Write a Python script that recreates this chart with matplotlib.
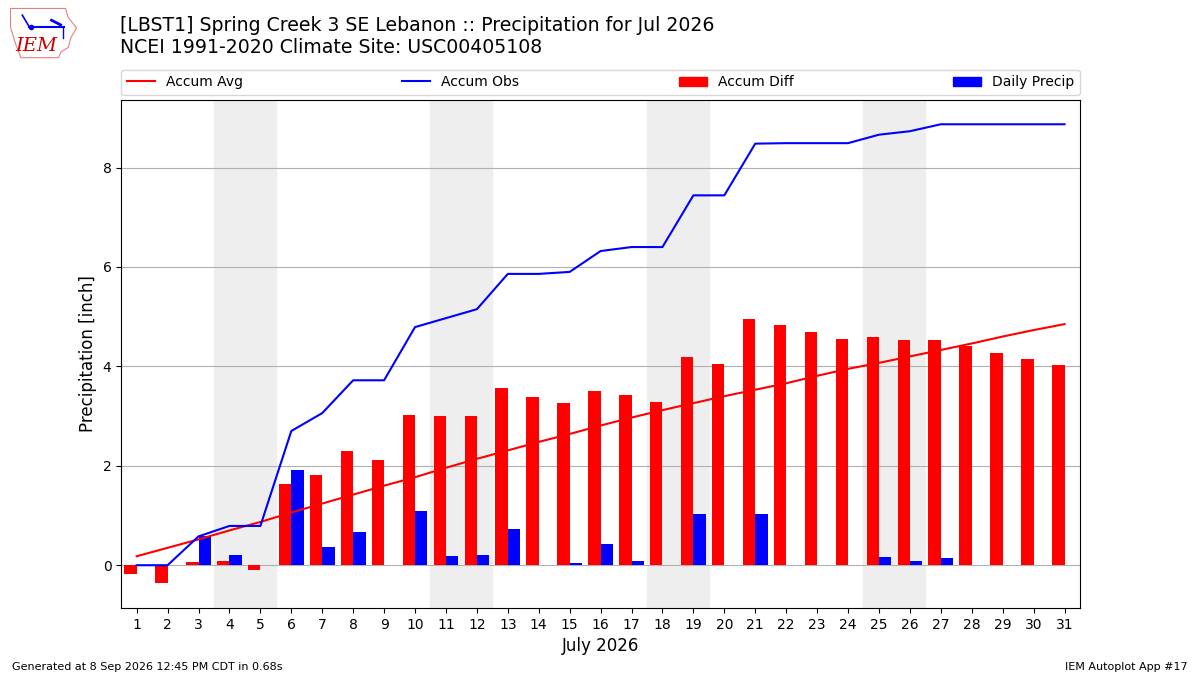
import matplotlib
matplotlib.use("Agg")
import matplotlib.pyplot as plt
from matplotlib.patches import Patch, Polygon
from matplotlib.lines import Line2D

days = list(range(1, 32))
accum_avg = [0.18, 0.35, 0.52, 0.70, 0.87, 1.06, 1.24, 1.42, 1.60, 1.77,
             1.96, 2.14, 2.31, 2.48, 2.64, 2.81, 2.97, 3.12, 3.26, 3.40,
             3.53, 3.66, 3.81, 3.95, 4.07, 4.20, 4.33, 4.46, 4.60, 4.73, 4.85]
accum_obs = [0.00, 0.00, 0.58, 0.79, 0.79, 2.70, 3.06, 3.72, 3.72, 4.79,
             4.97, 5.15, 5.86, 5.86, 5.90, 6.32, 6.40, 6.40, 7.44, 7.44,
             8.48, 8.49, 8.49, 8.49, 8.66, 8.73, 8.87, 8.87, 8.87, 8.87, 8.87]
accum_diff = [-0.17, -0.36, 0.06, 0.08, -0.09, 1.63, 1.81, 2.29, 2.11, 3.02,
              3.00, 3.00, 3.56, 3.38, 3.26, 3.50, 3.42, 3.28, 4.18, 4.04,
              4.95, 4.83, 4.69, 4.55, 4.59, 4.53, 4.53, 4.41, 4.27, 4.14, 4.02]
daily_precip = [0.00, 0.00, 0.58, 0.21, 0.00, 1.91, 0.36, 0.66, 0.00, 1.09,
                0.18, 0.20, 0.72, 0.00, 0.04, 0.42, 0.08, 0.00, 1.04, 0.00,
                1.04, 0.01, 0.00, 0.00, 0.16, 0.08, 0.14, 0.00, 0.00, 0.00, 0.00]
weekends = [(4, 5), (11, 12), (18, 19), (25, 26)]

fig = plt.figure(figsize=(12, 6.75), dpi=100)
ax = fig.add_axes([0.101, 0.0993, 0.799, 0.7527])

for start, end in weekends:
    ax.axvspan(start - 0.5, end + 0.5, color="#eeeeee", zorder=0)

ax.bar(days, accum_diff, width=-0.4, align="edge", color="r", zorder=2)
ax.bar(days, daily_precip, width=0.4, align="edge", color="b", zorder=2)
ax.plot(days, accum_avg, color="r", lw=1.5, zorder=3)
ax.plot(days, accum_obs, color="b", lw=1.5, zorder=3)

ax.set_xlim(0.5, 31.5)
ax.set_ylim(-0.86, 9.36)
ax.set_xticks(days)
ax.set_yticks([0, 2, 4, 6, 8])
ax.grid(axis="y", color="#b0b0b0", zorder=1)
ax.set_axisbelow(True)
ax.set_xlabel("July 2026", fontsize=12)
ax.set_ylabel("Precipitation [inch]", fontsize=12)

handles = [
    Line2D([], [], color="r", lw=1.5),
    Line2D([], [], color="b", lw=1.5),
    Patch(color="r"),
    Patch(color="b"),
]
ax.legend(handles, ["Accum Avg", "Accum Obs", "Accum Diff", "Daily Precip"],
          ncol=4, mode="expand", loc="lower left",
          bbox_to_anchor=(0, 1.01, 1, 0.05), borderaxespad=0, fontsize=10)

fig.text(0.1, 0.976, "[LBST1] Spring Creek 3 SE Lebanon :: Precipitation for Jul 2026\n"
         "NCEI 1991-2020 Climate Site: USC00405108",
         fontsize=13.6, va="top", ha="left", linespacing=1.2)

# rough stand-in for the IEM logo
logo = fig.add_axes([0.007, 0.913, 0.058, 0.076])
logo.axis("off")
logo.set_xlim(0, 1)
logo.set_ylim(0, 1)
iowa = [(0.03, 0.98), (0.82, 0.98), (0.86, 0.8), (0.98, 0.6), (0.9, 0.42),
        (0.86, 0.22), (0.76, 0.14), (0.72, 0.02), (0.18, 0.02), (0.1, 0.3),
        (0.03, 0.62)]
logo.add_patch(Polygon(iowa, closed=True, fill=False, ec="#e88080", lw=0.8))
logo.plot([0.3, 0.8], [0.62, 0.62], color="b", lw=1.5)
logo.plot([0.32], [0.62], "o", color="b", ms=3)
logo.plot([0.2, 0.3], [0.85, 0.62], color="b", lw=1.2)
logo.plot([0.62, 0.75], [0.75, 0.66], color="b", lw=2)
logo.plot([0.78, 0.78], [0.62, 0.4], color="b", lw=1)
logo.text(0.4, 0.24, "IEM", color="#cc0000", fontsize=14, family="DejaVu Serif",
          style="italic", ha="center", va="center")

fig.text(0.01, 0.008, "Generated at 8 Sep 2026 12:45 PM CDT in 0.68s", fontsize=8)
fig.text(0.99, 0.008, "IEM Autoplot App #17", fontsize=8, ha="right")

fig.savefig("out.png", dpi=100)
